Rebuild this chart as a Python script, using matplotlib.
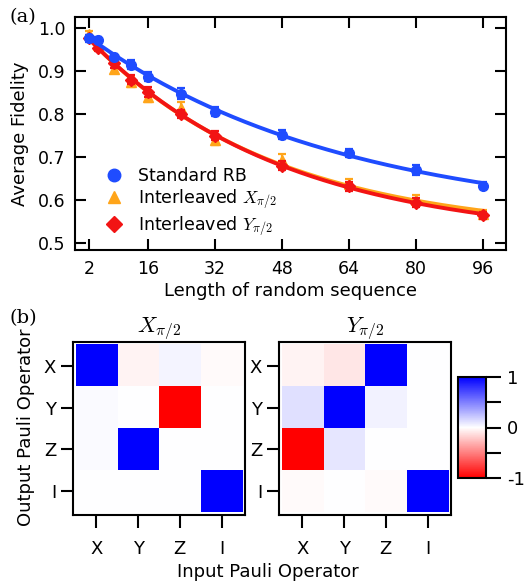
import numpy as np
import matplotlib
matplotlib.use('Agg')
import matplotlib.pyplot as plt
from matplotlib.colors import LinearSegmentedColormap
from matplotlib.lines import Line2D

plt.rcParams['font.family'] = ['DejaVu Sans']
plt.rcParams['mathtext.fontset'] = 'cm'

# --- (a) randomized benchmarking data ---
seq_len = np.array([2, 4, 8, 12, 16, 24, 32, 48, 64, 80, 96])
fid_std = np.array([0.976, 0.973, 0.932, 0.915, 0.887, 0.848, 0.806, 0.752, 0.710, 0.670, 0.634])
err_std = np.array([0.008, 0.006, 0.007, 0.010, 0.010, 0.012, 0.011, 0.010, 0.009, 0.011, 0.008])
fid_x = np.array([0.986, 0.960, 0.905, 0.875, 0.840, 0.815, 0.740, 0.693, 0.637, 0.600, 0.568])
err_x = np.array([0.008, 0.007, 0.010, 0.011, 0.012, 0.014, 0.012, 0.014, 0.011, 0.012, 0.008])
fid_y = np.array([0.978, 0.953, 0.918, 0.880, 0.852, 0.800, 0.750, 0.680, 0.632, 0.594, 0.565])
err_y = np.array([0.006, 0.006, 0.010, 0.010, 0.011, 0.010, 0.011, 0.010, 0.010, 0.011, 0.008])

# --- (b) process matrices (rows: output, cols: input) ---
pauli = ['X', 'Y', 'Z', 'I']
chi_x = np.array([[1.00, -0.04, 0.04, -0.02],
                  [0.02, 0.00, -1.00, 0.00],
                  [0.02, 1.00, 0.00, 0.00],
                  [0.00, 0.00, 0.00, 1.00]])
chi_y = np.array([[-0.04, -0.10, 1.00, 0.00],
                  [0.12, 1.00, 0.05, 0.00],
                  [-1.00, 0.10, 0.00, 0.00],
                  [-0.02, 0.00, -0.02, 1.00]])

c_blue = '#1f4cff'
c_orange = '#ffa51a'
c_red = '#f21414'


def fit_decay(m, f):
    # F = A p^m + B, scan p and solve A, B by least squares
    best = None
    for p in np.linspace(0.95, 0.9999, 5000):
        M = np.column_stack([p ** m, np.ones_like(m, dtype=float)])
        coef, res, _, _ = np.linalg.lstsq(M, f, rcond=None)
        r = np.sum((M @ coef - f) ** 2)
        if best is None or r < best[0]:
            best = (r, p, coef)
    return best[1], best[2]


fig = plt.figure(figsize=(5.3, 5.83), dpi=100)

ax = fig.add_axes([75 / 530, 1 - 250 / 583, 431 / 530, 233 / 583])
mm = np.linspace(2, 96, 300)
for f, e, c, mk, ms, z in [(fid_x, err_x, c_orange, '^', 7, 3),
                           (fid_y, err_y, c_red, 'D', 6, 4),
                           (fid_std, err_std, c_blue, 'o', 7, 5)]:
    p, (A, B) = fit_decay(seq_len.astype(float), f)
    ax.plot(mm, A * p ** mm + B, color=c, lw=2.8, zorder=z)
    ax.errorbar(seq_len, f, yerr=e, fmt=mk, color=c, ms=ms, capsize=3,
                elinewidth=1.6, capthick=1.6, zorder=z + 0.5)

ax.set_xlim(-1.4, 101.4)
ax.set_ylim(0.484, 1.026)
ax.set_xticks([2, 16, 32, 48, 64, 80, 96])
ax.set_yticks([0.5, 0.6, 0.7, 0.8, 0.9, 1.0])
ax.set_yticklabels(['0.5', '0.6', '0.7', '0.8', '0.9', '1.0'])
ax.tick_params(direction='in', length=8, width=1.5, top=True, right=True,
               labelsize=12.5, pad=7)
for s in ax.spines.values():
    s.set_linewidth(1.5)
ax.set_xlabel('Length of random sequence', fontsize=13, labelpad=3)
ax.set_ylabel('Average Fidelity', fontsize=13, labelpad=6)

handles = [Line2D([], [], ls='none', marker='o', color=c_blue, ms=9),
           Line2D([], [], ls='none', marker='^', color=c_orange, ms=9),
           Line2D([], [], ls='none', marker='D', color=c_red, ms=8)]
labels = ['Standard RB', r'Interleaved $X_{\pi/2}$', r'Interleaved $Y_{\pi/2}$']
ax.legend(handles, labels, frameon=False, fontsize=12.5, loc='lower left',
          bbox_to_anchor=(0.035, 0.022), handletextpad=0.35, labelspacing=0.18,
          borderaxespad=0, prop={'size': 12.5})

fig.text(0.018, 0.962, '(a)', family='serif', fontsize=14)
fig.text(0.018, 0.445, '(b)', family='serif', fontsize=14)

# --- (b) heatmaps ---
cmap = LinearSegmentedColormap.from_list('rwb', ['#ff0000', '#ffffff', '#0000ff'])
hm_left = [73, 279]
for x0, chi, title in zip(hm_left, [chi_x, chi_y], [r'$X_{\pi/2}$', r'$Y_{\pi/2}$']):
    hx = fig.add_axes([x0 / 530, 1 - 515 / 583, 172 / 530, 173 / 583])
    im = hx.imshow(chi, cmap=cmap, vmin=-1, vmax=1, aspect='auto',
                   interpolation='nearest')
    hx.set_xlim(-0.56, 3.56)
    hx.set_ylim(3.56, -0.56)
    hx.set_xticks(range(4))
    hx.set_xticklabels(pauli)
    hx.set_yticks(range(4))
    hx.set_yticklabels(pauli)
    hx.tick_params(direction='out', length=9, width=1.5, labelsize=13)
    hx.tick_params(axis='x', pad=9)
    hx.tick_params(axis='y', pad=3)
    for s in hx.spines.values():
        s.set_linewidth(1.5)
    hx.set_title(title, fontsize=16, pad=2)

cax = fig.add_axes([458 / 530, 1 - 478 / 583, 28 / 530, 101 / 583])
cb = fig.colorbar(im, cax=cax, ticks=[-1, -0.5, 0, 0.5, 1])
cb.ax.set_yticklabels(['-1', '', '0', '', '1'])
cb.ax.tick_params(direction='out', length=11, width=1.5, labelsize=13, pad=4)
cb.outline.set_linewidth(1.5)

fig.text(268 / 530, 1 - 572 / 583, 'Input Pauli Operator', ha='center', va='center',
         fontsize=13)
fig.text(26 / 530, 1 - 427 / 583, 'Output Pauli Operator', ha='center', va='center',
         rotation=90, fontsize=13)

fig.savefig('out.png', dpi=100)
